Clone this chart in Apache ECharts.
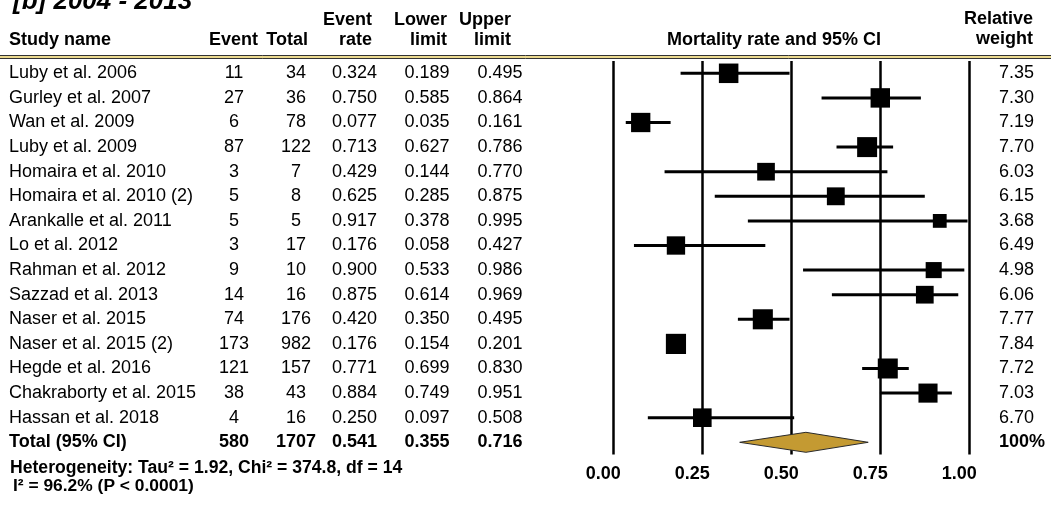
<!DOCTYPE html>
<html>
<head>
<meta charset="utf-8">
<script src="https://cdn.jsdelivr.net/npm/echarts@6/dist/echarts.min.js"></script>
<style>
html,body{margin:0;padding:0;background:#fff;}
#chart{width:1051px;height:507px;}
</style>
</head>
<body>
<div id="chart"></div>
<script>
// ---------- data ----------
const studies = ['Luby et al. 2006','Gurley et al. 2007','Wan et al. 2009','Luby et al. 2009','Homaira et al. 2010','Homaira et al. 2010 (2)','Arankalle et al. 2011','Lo et al. 2012','Rahman et al. 2012','Sazzad et al. 2013','Naser et al. 2015','Naser et al. 2015 (2)','Hegde et al. 2016','Chakraborty et al. 2015','Hassan et al. 2018'];
const events  = [11,27,6,87,3,5,5,3,9,14,74,173,121,38,4];
const totals  = [34,36,78,122,7,8,5,17,10,16,176,982,157,43,16];
const rates   = [0.324,0.750,0.077,0.713,0.429,0.625,0.917,0.176,0.900,0.875,0.420,0.176,0.771,0.884,0.250];
const lowers  = [0.189,0.585,0.035,0.627,0.144,0.285,0.378,0.058,0.533,0.614,0.350,0.154,0.699,0.749,0.097];
const uppers  = [0.495,0.864,0.161,0.786,0.770,0.875,0.995,0.427,0.986,0.969,0.495,0.201,0.830,0.951,0.508];
const weights = [7.35,7.30,7.19,7.70,6.03,6.15,3.68,6.49,4.98,6.06,7.77,7.84,7.72,7.03,6.70];
const totalLabel = 'Total (95% CI)';
const totalEvents = 580, totalN = 1707;
const totalRate = 0.541, totalLower = 0.355, totalUpper = 0.716;
const totalWeight = '100%';
const xTicks = [0, 0.25, 0.5, 0.75, 1];
const titleText = '[b] 2004 - 2013';
const heteroLine1 = 'Heterogeneity: Tau\u00b2 = 1.92, Chi\u00b2 = 374.8, df = 14';
const heteroLine2 = 'I\u00b2 = 96.2% (P < 0.0001)';
const plotTitle = 'Mortality rate and 95% CI';

// ---------- layout ----------
const FF = "'Liberation Sans', Arial, sans-serif";
const nRows = studies.length + 1; // + total row
const rowH = 24.6;
const firstRowY = 73.3;
const gridTop = firstRowY - rowH / 2;
const gridH = rowH * nRows;
const plotLeft = 613.3, plotW = 356;

function font(sz, bold, italic){ return (italic?'italic ':'') + (bold?'bold ':'') + sz + 'px ' + FF; }
function T(x, y, text, opt){
  opt = opt || {};
  const a = opt.align || 'left';
  return {type:'text', x:x, y:y, silent:true,
    style:{text:text, fill:'#000', font:font(opt.size||18, opt.bold, opt.italic),
      align:a, verticalAlign:'middle', textAlign:a, textVerticalAlign:'middle'}};
}

// column anchors (pixel) in the full-width table grid
const cols = {name:9, ev:234, tot:296, rate:354.5, low:427, up:500, wt:999};

const tableRows = studies.map((s,i)=>[0,i]).concat([[0, studies.length]]);

const option = {
  animation:false,
  backgroundColor:'#fff',
  grid:[
    {left:plotLeft, top:gridTop, width:plotW, height:gridH},
    {left:0, top:gridTop, width:1051, height:gridH}
  ],
  xAxis:[
    {gridIndex:0, type:'value', min:xTicks[0], max:xTicks[xTicks.length-1], interval:xTicks[1]-xTicks[0],
     axisLine:{show:false}, axisTick:{show:false},
     splitLine:{show:true, lineStyle:{color:'#000', width:2.5}},
     axisLabel:{formatter:v=>v.toFixed(2), color:'#000', fontWeight:'bold', fontSize:18, fontFamily:FF, margin:10, padding:[0,20,0,0]}},
    {gridIndex:1, type:'value', min:0, max:1051, show:false}
  ],
  yAxis:[
    {gridIndex:0, type:'value', min:-0.5, max:nRows-0.5, inverse:true, show:false},
    {gridIndex:1, type:'value', min:-0.5, max:nRows-0.5, inverse:true, show:false}
  ],
  series:[
    {
      type:'custom', name:'table', xAxisIndex:1, yAxisIndex:1, silent:true,
      data:tableRows, encode:{x:0, y:1}, z:5,
      renderItem:function(params, api){
        const i = api.value(1);
        const y = api.coord([0, i])[1];
        const isTot = i === studies.length;
        const b = isTot;
        const r = isTot ? [totalLabel, totalEvents, totalN, totalRate, totalLower, totalUpper, totalWeight]
                        : [studies[i], events[i], totals[i], rates[i], lowers[i], uppers[i], weights[i].toFixed(2)];
        return {type:'group', children:[
          T(cols.name, y, r[0], {bold:b}),
          T(cols.ev, y, String(r[1]), {bold:b, align:'center'}),
          T(cols.tot, y, String(r[2]), {bold:b, align:'center'}),
          T(cols.rate, y, r[3].toFixed(3), {bold:b, align:'center'}),
          T(cols.low, y, r[4].toFixed(3), {bold:b, align:'center'}),
          T(cols.up, y, r[5].toFixed(3), {bold:b, align:'center'}),
          T(cols.wt, y, r[6], {bold:b, align:'left'})
        ]};
      }
    },
    {
      type:'custom', name:'studies', xAxisIndex:0, yAxisIndex:0, silent:true, z:10,
      data:studies.map((s,i)=>[i, rates[i], lowers[i], uppers[i], weights[i]]),
      encode:{x:[1,2,3], y:0},
      renderItem:function(params, api){
        const i = api.value(0);
        const c = api.coord([api.value(1), i]);
        const l = api.coord([api.value(2), i]);
        const u = api.coord([api.value(3), i]);
        const s = 7.2 * Math.sqrt(api.value(4));
        return {type:'group', children:[
          {type:'line', shape:{x1:l[0], y1:l[1], x2:u[0], y2:u[1]}, style:{stroke:'#000', lineWidth:3}},
          {type:'rect', shape:{x:c[0]-s/2, y:c[1]-s/2, width:s, height:s}, style:{fill:'#000'}}
        ]};
      }
    },
    {
      type:'custom', name:'total', xAxisIndex:0, yAxisIndex:0, silent:true, z:10,
      data:[[studies.length, totalRate, totalLower, totalUpper]],
      encode:{x:[1,2,3], y:0},
      renderItem:function(params, api){
        const i = api.value(0);
        const c = api.coord([api.value(1), i]);
        const l = api.coord([api.value(2), i]);
        const u = api.coord([api.value(3), i]);
        const h = 10;
        return {type:'polygon', shape:{points:[[l[0], c[1]], [c[0], c[1]-h], [u[0], c[1]], [c[0], c[1]+h]]},
                style:{fill:'#C49A32', stroke:'#2a2a2a', lineWidth:1}};
      }
    }
  ],
  graphic:[
    T(13, 1.5, titleText, {size:26, bold:true, italic:true}),
    T(9, 40.2, 'Study name', {bold:true}),
    T(258, 40.2, 'Event', {bold:true, align:'right'}),
    T(308, 40.2, 'Total', {bold:true, align:'right'}),
    T(372, 20.4, 'Event', {bold:true, align:'right'}),
    T(372, 40.2, 'rate', {bold:true, align:'right'}),
    T(447, 20.4, 'Lower', {bold:true, align:'right'}),
    T(447, 40.2, 'limit', {bold:true, align:'right'}),
    T(511, 20.4, 'Upper', {bold:true, align:'right'}),
    T(511, 40.2, 'limit', {bold:true, align:'right'}),
    T(774, 40.2, plotTitle, {bold:true, align:'center'}),
    T(1033, 18.7, 'Relative', {bold:true, align:'right'}),
    T(1033, 39.2, 'weight', {bold:true, align:'right'}),
    {type:'rect', silent:true, shape:{x:-1, y:55.5, width:1053, height:3}, style:{fill:'#EBD98F', stroke:'#333', lineWidth:1}},
    T(10, 468.3, heteroLine1, {bold:true, size:17.6}),
    T(13, 486.6, heteroLine2, {bold:true, size:17.4})
  ]
};

const chart = echarts.init(document.getElementById('chart'), null, {renderer:'canvas'});
chart.setOption(option);
</script>
</body>
</html>
